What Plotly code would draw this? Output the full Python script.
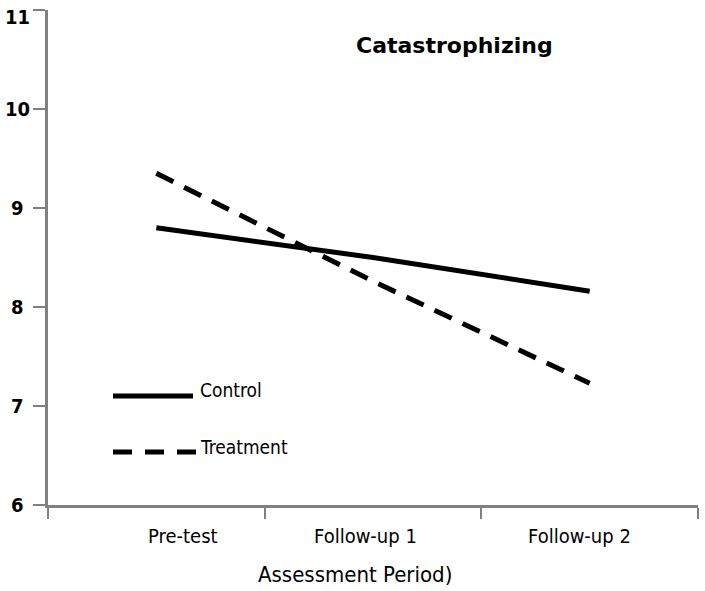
import plotly.graph_objects as go

periods = ["Pre-test", "Follow-up 1", "Follow-up 2"]
control = [8.80, 8.50, 8.16]
treatment = [9.35, 8.26, 7.23]
y_ticks = [6, 7, 8, 9, 10, 11]

W, H = 705, 591
L, R, T, B = 48, 7, 10, 86

fig = go.Figure()
fig.add_trace(go.Scatter(x=periods, y=control, mode="lines", name="Control",
                         line=dict(color="black", width=5), showlegend=False))
fig.add_trace(go.Scatter(x=periods, y=treatment, mode="lines", name="Treatment",
                         line=dict(color="black", width=5, dash="19px,12px"), showlegend=False))

pw = W - L - R
ph = H - T - B
def px(x):
    return (x - L) / pw
def py(y):
    return 1 - (y - T) / ph

# y tick labels, centred in the left gutter as in the original
for v in y_ticks:
    fig.add_annotation(text=str(v), xref="paper", yref="y", x=px(17), y=v,
                       xanchor="center", yanchor="middle", showarrow=False,
                       yshift=-7 if v == max(y_ticks) else 0,
                       font=dict(family="DejaVu Sans Condensed", size=20, color="black", weight="bold"))

# x tick labels (slightly offset from category centres, as in the original)
x_label_shift = [27, -8, -10]
for cat, sh in zip(periods, x_label_shift):
    fig.add_annotation(text=cat, xref="x", yref="paper", x=cat, y=py(536),
                       xanchor="center", yanchor="middle", showarrow=False, xshift=sh,
                       font=dict(family="DejaVu Sans Condensed", size=20, color="black"))

# manual legend (long line samples as in the original)
fig.add_shape(type="line", xref="paper", yref="paper", x0=px(113), x1=px(193), y0=py(396), y1=py(396),
              line=dict(color="black", width=5))
fig.add_shape(type="line", xref="paper", yref="paper", x0=px(113), x1=px(196), y0=py(452), y1=py(452),
              line=dict(color="black", width=5, dash="19px,13px"))
legend_font = dict(family="DejaVu Sans Condensed", size=19, color="black")
fig.add_annotation(text="Control", xref="paper", yref="paper", x=px(198), y=py(390),
                   xanchor="left", yanchor="middle", showarrow=False, font=legend_font)
fig.add_annotation(text="Treatment", xref="paper", yref="paper", x=px(198), y=py(447),
                   xanchor="left", yanchor="middle", showarrow=False, font=legend_font)
fig.add_annotation(text="<b>Catastrophizing</b>", xref="paper", yref="paper", x=px(454), y=py(45),
                   xanchor="center", yanchor="middle", showarrow=False,
                   font=dict(family="DejaVu Sans", size=22, color="black"))
fig.add_annotation(text="Assessment Period)", xref="paper", yref="paper", x=px(355), y=py(574),
                   xanchor="center", yanchor="middle", showarrow=False,
                   font=dict(family="DejaVu Sans Condensed", size=22, color="black"))

fig.update_layout(
    width=W, height=H,
    margin=dict(l=L, r=R, t=T, b=B, autoexpand=False),
    plot_bgcolor="white", paper_bgcolor="white",
    showlegend=False,
)
fig.update_xaxes(
    type="category", range=[-0.5, 2.5], tickson="boundaries", automargin=False,
    showline=True, linecolor="#808080", linewidth=3,
    ticks="outside", ticklen=11, tickwidth=2, tickcolor="#808080",
    showgrid=False, zeroline=False, showticklabels=False,
)
fig.update_yaxes(
    range=[6, 11], tickvals=y_ticks, automargin=False,
    showline=True, linecolor="#808080", linewidth=3,
    ticks="outside", ticklen=12, tickwidth=2, tickcolor="#808080",
    showgrid=False, zeroline=False, showticklabels=False,
)

fig.write_html("out.html", config={"displayModeBar": False},
               post_script="document.body.style.margin='0';document.body.style.overflow='hidden';")
